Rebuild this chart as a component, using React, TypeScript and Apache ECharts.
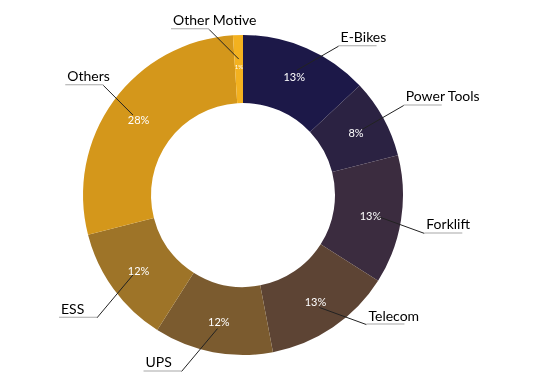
import React, { useEffect, useRef } from "react";
import * as echarts from "echarts";

const categories = ["E-Bikes", "Power Tools", "Forklift", "Telecom", "UPS", "ESS", "Others", "Other Motive"];
const shares = [13, 8, 13, 13, 12, 12, 28, 1];
const colors = ["#1c1848", "#2b2242", "#3b2c3f", "#5d4434", "#7b5b2f", "#9e7428", "#d4971b", "#f3b11f"];

const CENTER = [243, 195];
const RING = [92, 160];
const LEADER_START = 136;
const UNDERLINE = 38;
const FONT = "Lato, 'Open Sans', sans-serif";

export default function App() {
  const ref = useRef<HTMLDivElement>(null);
  useEffect(() => {
    const chart = echarts.init(ref.current!, null, { renderer: "svg" });
    const data = categories.map((name, i) => ({ name, value: shares[i] }));
    chart.setOption({
      animation: false,
      color: colors,
      series: [
        {
          type: "pie",
          center: CENTER,
          radius: RING,
          startAngle: 90,
          clockwise: true,
          silent: true,
          avoidLabelOverlap: false,
          label: {
            show: true,
            position: "inside",
            formatter: (p: any) => (p.value < 3 ? `{s|${p.value}%}` : `${p.value}%`),
            color: "#ffffff",
            fontSize: 11,
            fontFamily: FONT,
            rich: { s: { fontSize: 6, color: "#ffffff", fontFamily: FONT } },
          },
          labelLine: { show: false },
          data,
        },
        {
          type: "pie",
          center: CENTER,
          radius: [0, LEADER_START],
          startAngle: 90,
          clockwise: true,
          silent: true,
          avoidLabelOverlap: false,
          z: 3,
          itemStyle: { color: "rgba(0,0,0,0)" },
          label: {
            show: true,
            position: "outside",
            formatter: (p: any) => `{n|${p.name}}\n{u|}`,
            rich: {
              n: { fontSize: 14, color: "#000000", fontFamily: FONT, padding: [0, 0, 1, 2], lineHeight: 16 },
              u: { width: UNDERLINE, height: 1, lineHeight: 1, backgroundColor: "#a8a8a8" },
            },
          },
          labelLine: { show: true, length: 40, length2: 0, lineStyle: { color: "#222222", width: 1 } },
          labelLayout: (params: any) => {
            const pts = params.labelLinePoints;
            if (!pts) return {};
            const p0 = pts[0];
            const p1 = pts[1];
            const right = p0[0] >= CENTER[0];
            const down = p1[1] > p0[1];
            const deg = right ? (down ? 20 : 30) : down ? 50 : 45;
            const len = right ? (down ? 50 : 48) : down ? 56 : 42;
            const ang = (deg * Math.PI) / 180;
            const ex = p0[0] + (right ? 1 : -1) * len * Math.cos(ang);
            const ey = p0[1] + (down ? 1 : -1) * len * Math.sin(ang);
            return {
              x: right ? ex : ex - UNDERLINE,
              y: ey,
              align: "left",
              verticalAlign: "bottom",
              labelLinePoints: [p0, [ex, ey], [ex, ey]],
            };
          },
          data,
        },
      ],
    });
    return () => chart.dispose();
  }, []);
  return <div ref={ref} style={{ position: "fixed", left: 0, top: 0, width: 541, height: 381 }} />;
}
